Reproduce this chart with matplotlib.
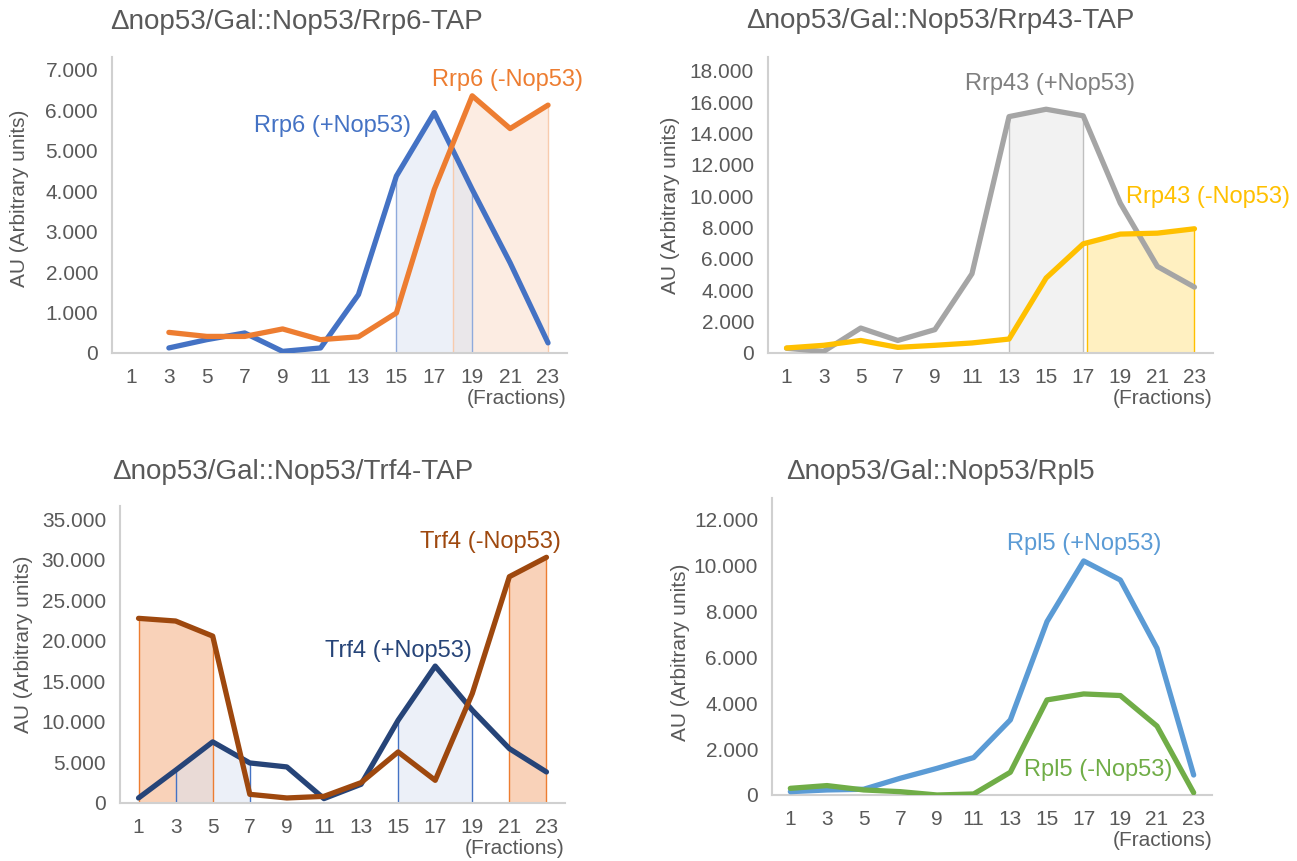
import numpy as np
import matplotlib.pyplot as plt
from matplotlib.ticker import FuncFormatter

plt.rcParams['font.family'] = ['Liberation Sans', 'DejaVu Sans']

# fractions of the gradient (x categories)
fractions = [1, 3, 5, 7, 9, 11, 13, 15, 17, 19, 21, 23]

rrp6_plus = [np.nan, 125, 330, 495, 40, 125, 1445, 4375, 5945, 4045, 2230, 250]
rrp6_minus = [np.nan, 510, 410, 410, 595, 330, 400, 990, 4045, 6360, 5550, 6130]
rrp43_plus = [300, 100, 1590, 800, 1490, 5050, 15070, 15540, 15120, 9550, 5520, 4200]
rrp43_minus = [320, 490, 800, 360, 490, 640, 890, 4780, 6960, 7580, 7640, 7920]
trf4_plus = [620, 4040, 7540, 4940, 4450, 540, 2310, 10210, 16890, 11450, 6710, 3830]
trf4_minus = [22780, 22450, 20590, 1070, 620, 820, 2510, 6300, 2800, 13510, 27920, 30310]
rpl5_plus = [145, 220, 250, 730, 1160, 1630, 3270, 7550, 10190, 9360, 6390, 870]
rpl5_minus = [290, 410, 220, 145, 0, 45, 990, 4140, 4400, 4330, 3000, 100]

TXT = '#595959'
W, H = 1297, 861


def to_pos(f):
    return (f - 1) / 2


def shade(ax, vals, band, face, edge, alpha):
    pos = np.arange(len(fractions), dtype=float)
    v = np.asarray(vals, float)
    good = ~np.isnan(v)
    a, b = to_pos(band[0]), to_pos(band[1])
    xs = np.concatenate([[a], pos[(pos > a) & (pos < b)], [b]])
    ys = np.interp(xs, pos[good], v[good])
    ax.fill_between(xs, 0, ys, color=face, alpha=alpha, lw=0, zorder=1)
    ax.vlines([a, b], 0, [ys[0], ys[-1]], color=edge, lw=1, zorder=1.5)


def panel(rect_px, title, title_xy, ylab_xy, ymax, ytop, ystep, series, labels, shades):
    l, r, t, b = rect_px
    ax = fig.add_axes([l / W, 1 - b / H, (r - l) / W, (b - t) / H])
    for sh in shades:
        shade(ax, *sh)
    pos = np.arange(len(fractions))
    for vals, col in series:
        ax.plot(pos, vals, color=col, lw=3.8, solid_capstyle='round',
                solid_joinstyle='round', zorder=3)
    for (txt, x, y, col) in labels:
        ax.text(x, y, txt, color=col, fontsize=17, va='center', ha='left', zorder=4)
    ax.set_xlim(-0.5, len(fractions) - 0.5)
    ax.set_ylim(0, ytop)
    ax.set_xticks(pos)
    ax.set_xticklabels([str(f) for f in fractions])
    ax.set_yticks(np.arange(0, ymax + 1, ystep))
    ax.yaxis.set_major_formatter(FuncFormatter(lambda v, p: f"{int(v):,}".replace(",", ".")))
    ax.tick_params(axis='both', length=0, labelsize=15, colors=TXT)
    ax.tick_params(axis='y', pad=10)
    ax.tick_params(axis='x', pad=11)
    for s in ['top', 'right']:
        ax.spines[s].set_visible(False)
    for s in ['left', 'bottom']:
        ax.spines[s].set_color('#D0D0D0')
        ax.spines[s].set_linewidth(1.5)
    ax.text(1.0, -(46 / (b - t)), '(Fractions)', transform=ax.transAxes,
            ha='right', va='center', fontsize=15, color=TXT)
    fig.text(title_xy[0] / W, 1 - title_xy[1] / H, title, fontsize=20, color=TXT,
             ha='left', va='center')
    fig.text(ylab_xy[0] / W, 1 - ylab_xy[1] / H, 'AU (Arbitrary units)', fontsize=15,
             color=TXT, rotation=90, ha='center', va='center')
    return ax


fig = plt.figure(figsize=(W / 100, H / 100), dpi=100)

panel((112, 567, 57, 353), 'Δnop53/Gal::Nop53/Rrp6-TAP', (110, 22), (20, 198),
      7000, 7320, 1000,
      [(rrp6_plus, '#4472C4'), (rrp6_minus, '#ED7D31')],
      [('Rrp6 (+Nop53)', 3.25, 5615, '#4472C4'), ('Rrp6 (-Nop53)', 7.94, 6753, '#ED7D31')],
      [(rrp6_minus, (18, 23), '#F8CBAD', '#F8CBAD', 0.35),
       (rrp6_plus, (15, 19), '#DAE3F3', '#8FAADC', 0.5)])

panel((768, 1213, 57, 353), 'Δnop53/Gal::Nop53/Rrp43-TAP', (746, 21), (671, 205),
      18000, 18870, 2000,
      [(rrp43_plus, '#A5A5A5'), (rrp43_minus, '#FFC000')],
      [('Rrp43 (+Nop53)', 4.8, 17150, '#7F7F7F'), ('Rrp43 (-Nop53)', 9.15, 9947, '#FFC000')],
      [(rrp43_plus, (13, 17), '#F2F2F2', '#BFBFBF', 1.0),
       (rrp43_minus, (17.2, 23), '#FFE699', '#FFC000', 0.6)])

panel((120, 565, 506, 803), 'Δnop53/Gal::Nop53/Trf4-TAP', (112, 472), (24, 644),
      35000, 36640, 5000,
      [(trf4_plus, '#264478'), (trf4_minus, '#9E480E')],
      [('Trf4 (-Nop53)', 7.58, 32197, '#9E480E'), ('Trf4 (+Nop53)', 5.02, 18735, '#264478')],
      [(trf4_minus, (1, 5), '#F8CBAD', '#ED7D31', 0.85),
       (trf4_minus, (21, 23), '#F8CBAD', '#ED7D31', 0.85),
       (trf4_plus, (3, 7), '#DAE3F3', '#4472C4', 0.5),
       (trf4_plus, (15, 19), '#DAE3F3', '#4472C4', 0.5)])

panel((772, 1212, 498, 795), 'Δnop53/Gal::Nop53/Rpl5', (786, 472), (680, 652),
      12000, 12930, 2000,
      [(rpl5_plus, '#5B9BD5'), (rpl5_minus, '#70AD47')],
      [('Rpl5 (+Nop53)', 5.92, 10925, '#5B9BD5'), ('Rpl5 (-Nop53)', 6.36, 1088, '#70AD47')],
      [])

fig.savefig('out.png', dpi=100)
